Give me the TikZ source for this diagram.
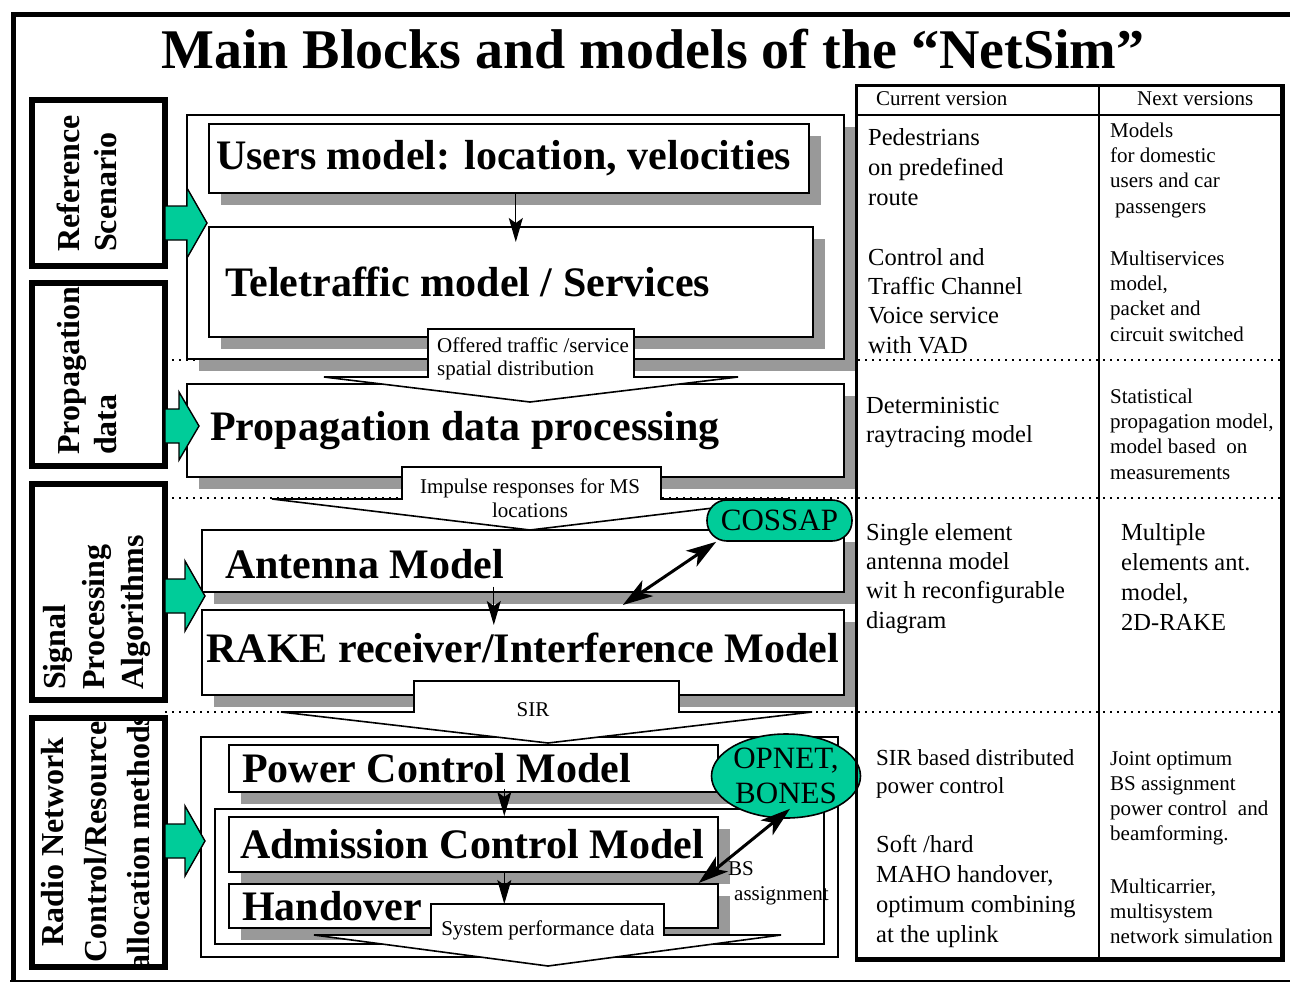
\documentclass[tikz,border=0pt]{standalone}
\usepackage{fontspec}
\setmainfont{Liberation Serif}
\usetikzlibrary{arrows.meta,positioning,calc,shadows,shapes.geometric}

\definecolor{simgreen}{RGB}{0,204,153}
\definecolor{shadowgray}{RGB}{153,153,153}
\newcommand{\fsz}[2]{\fontsize{#1}{#2}\selectfont}

\begin{document}
\begin{tikzpicture}[
    x=1pt, y=-1pt,
    catbox/.style={rectangle, draw, line width=6pt, inner sep=0pt, anchor=north west},
    cattext/.style={rotate=90, inner sep=0pt, font=\fsz{32}{37}\bfseries},
    mbox/.style={rectangle, draw, fill=white, line width=1.6pt, inner sep=0pt, anchor=north west,
        drop shadow={shadow xshift=12pt, shadow yshift=-12pt, fill=shadowgray, opacity=1}},
    frame/.style={rectangle, draw, line width=1.6pt, inner sep=0pt, anchor=north west},
    head/.style={inner sep=0pt, font=\fsz{42}{46}\bfseries},
    lbl/.style={inner sep=0pt, align=left, font=\fsz{21}{24}},
    cellA/.style={inner sep=0pt, anchor=base west, align=left, font=\fsz{24.5}{30}},
    cellB/.style={inner sep=0pt, anchor=base west, align=left, font=\fsz{21}{25.3}},
    tool/.style={draw, fill=simgreen, line width=1.6pt, inner sep=0pt, align=center, font=\fsz{31}{35}},
    funnel/.style={draw, fill=white, line width=1.6pt},
    garrow/.style={draw, fill=simgreen, line width=1.4pt},
    arr/.style={-{Stealth[length=24pt, width=14pt, inset=5pt]}, line width=1.2pt},
    dbl/.style={{Stealth[length=30pt, width=19pt, inset=8pt]}-{Stealth[length=30pt, width=19pt, inset=8pt]}, line width=3pt},
    sep/.style={line width=2pt, dash pattern=on 2pt off 5pt},
]
\useasboundingbox (0,0) rectangle (1290,983);

% outer frame and title
\draw[line width=5pt] (1290,14.5) -- (13,14.5) -- (13,982);
\draw[line width=2pt] (10,981) -- (1290,981);
\node[inner sep=0pt, anchor=base, font=\fsz{56}{60}\bfseries] (title) at (653,68)
    {Main Blocks and models of the “NetSim”};

% dotted separators
\draw[sep] (165,360) -- (1280,360);
\draw[sep] (165,498) -- (1280,498);
\draw[sep] (165,712) -- (1280,712);

% category boxes on the left
\node[catbox, minimum width=133pt, minimum height=166pt] (refbox) at (29,97) {};
\node[catbox, minimum width=133pt, minimum height=183pt] (propbox) at (29,280) {};
\node[catbox, minimum width=133pt, minimum height=216pt] (sigbox) at (29,481) {};
\node[cattext, anchor=west, align=left] (reftxt) at (87,252) {Reference\\Scenario};
\node[cattext, anchor=west, align=left] (proptxt) at (87,455) {Propagation\\data};
\node[cattext, anchor=west, align=left, font=\fsz{32}{39}\bfseries] (sigtxt) at (97,690)
    {Signal\\Processing\\Algorithms};
\begin{scope}
    \clip (29,715) rectangle (162,964);
    \node[cattext, align=center, font=\fsz{32}{43}\bfseries] (radtxt) at (95.5,842)
        {Radio Network\\Control/Resource\\allocation methods};
\end{scope}
\node[catbox, minimum width=133pt, minimum height=249pt] (radbox) at (29,715) {};

% reference scenario
\node[mbox, minimum width=657pt, minimum height=244pt] (scen) at (186,114) {};
\node[mbox, minimum width=600pt, minimum height=69pt] (users) at (208,123) {};
\node[head, right=8pt of users.west] (userstxt) {Users model: location, velocities};
\node[mbox, minimum width=604pt, minimum height=110pt] (tele) at (208,226) {};
\node[head, right=17pt of tele.west] (teletxt) {Teletraffic model / Services};
\coordinate (ua) at ($(users.south)+(7,0)$);
\draw[arr, shorten >=-16pt] (ua) -- (ua |- tele.north);

% propagation data
\node[mbox, minimum width=657pt, minimum height=93pt] (prop) at (186,383) {};
\node[head, right=24pt of prop.west] (proptitle) {Propagation data processing};
\draw[funnel] (428,377) -- (428,329) -- (634,329) -- (634,377) -- (738,377) -- (530,402) -- (324,377) -- cycle;
\node[lbl, anchor=base west, font=\fsz{21}{23}] (offer) at (437,375) {Offered traffic /service\\spatial distribution};

% signal processing
\node[mbox, minimum width=642pt, minimum height=62pt] (ant) at (201,529) {};
\node[head, right=24pt of ant.west, yshift=-3pt] (anttxt) {Antenna Model};
\node[mbox, minimum width=642pt, minimum height=85pt] (rake) at (201,609) {};
\node[head] (raketxt) at ($(rake.center)+(0,-4)$) {RAKE receiver/Interference Model};
\coordinate (aa) at ($(ant.south)+(-29,-6)$);
\draw[arr, shorten >=-16pt] (aa) -- (aa |- rake.north);
\draw[funnel] (402,499) -- (402,467) -- (661,467) -- (661,499) -- (788,499) -- (530,530) -- (272,499) -- cycle;
\node[lbl, align=center, anchor=base] (impulse) at (530,517) {Impulse responses for MS\\locations};
\node[tool, rounded corners=20pt, minimum width=145pt, minimum height=41pt] (cossap) at (779.5,520.5) {COSSAP};
\draw[dbl] ([xshift=10pt]cossap.south west) -- ([xshift=100pt,yshift=4pt]rake.north);

% radio network control
\node[frame, minimum width=637pt, minimum height=220pt] (rrm) at (200,736) {};
\node[frame, minimum width=609pt, minimum height=135pt] (rrmin) at (214,808) {};
\draw[funnel] (414,712) -- (414,681) -- (679,681) -- (679,712) -- (812,712) -- (548,743) -- (281,712) -- cycle;
\node[lbl, anchor=base] (sir) at (533,716) {SIR};
\node[mbox, minimum width=489pt, minimum height=47pt] (power) at (228,744) {};
\node[head, right=14pt of power.west] (powertxt) {Power Control Model};
\node[mbox, minimum width=489pt, minimum height=55pt] (adm) at (228,816) {};
\node[head, right=12pt of adm.west] (admtxt) {Admission Control Model};
\node[mbox, minimum width=489pt, minimum height=44pt] (hand) at (228,883) {};
\node[head, right=14pt of hand.west] (handtxt) {Handover};
\coordinate (pa) at ($(power.south)+(31,-4)$);
\draw[arr] (pa) -- (pa |- adm.north);
\coordinate (ha) at ($(adm.south)+(31,0)$);
\draw[arr, shorten >=-21pt] (ha) -- (ha |- hand.north);
\draw[funnel] (431,935) -- (431,904) -- (664,904) -- (664,935) -- (781,935) -- (548,966) -- (314,935) -- cycle;
\node[lbl, anchor=base] (sysperf) at (548,935) {System performance data};
\node[tool, ellipse, minimum width=138pt, minimum height=84pt] (opnet) at (786,776) {OPNET,\\BONES};
\draw[dbl] ([xshift=4pt,yshift=10pt]opnet.south) -- ([xshift=-20pt]hand.north east);
\node[lbl, anchor=base west, font=\fsz{21}{25}] (bsa) at (728,900) {BS\\\hspace{6pt}assignment};

% green arrows into the blocks
\draw[garrow] (207,223) -- ++(-20,-35) -- ++(0,18) -- ++(-22,0) -- ++(0,34) -- ++(22,0) -- ++(0,18) -- cycle;
\draw[garrow] (199,426) -- ++(-20,-34) -- ++(0,17) -- ++(-14,0) -- ++(0,34) -- ++(14,0) -- ++(0,17) -- cycle;
\draw[garrow] (205,596) -- ++(-20,-35) -- ++(0,18) -- ++(-20,0) -- ++(0,34) -- ++(20,0) -- ++(0,18) -- cycle;
\draw[garrow] (205,841) -- ++(-20,-35) -- ++(0,18) -- ++(-20,0) -- ++(0,34) -- ++(20,0) -- ++(0,18) -- cycle;

% table of versions
\node[rectangle, draw, line width=2.5pt, inner sep=0pt, anchor=north west,
    minimum width=425pt, minimum height=873pt] (tab) at (855,84) {};
\draw[line width=2pt] ($(tab.north west)+(0,31)$) -- ($(tab.north east)+(0,31)$);
\draw[line width=2pt] ($(tab.north west)+(244,0)$) -- ($(tab.south west)+(244,0)$);
\draw[line width=4.5pt] (tab.north east) -- (tab.south east) -- (tab.south west);
\node[cellB] (curhd) at (876,105) {Current version};
\node[cellB] (nexthd) at (1137,105) {Next versions};
\node[cellA] (c1) at (868,205) {Pedestrians\\on predefined\\route};
\node[cellA, font=\fsz{24.5}{29.3}] (c2) at (868,353) {Control and\\Traffic Channel\\Voice service\\with VAD};
\node[cellB] (n1) at (1110,213) {Models\\for domestic\\users and car\\\hspace{5pt}passengers};
\node[cellB] (n2) at (1110,341) {Multiservices\\model,\\packet and\\circuit switched};
\node[cellA, font=\fsz{24.5}{29}] (c3) at (866,442) {Deterministic\\raytracing model};
\node[cellB] (n3) at (1110,479) {Statistical\\propagation model,\\model based\ \ on\\measurements};
\node[cellA, font=\fsz{24.5}{29.3}] (c4) at (866,628) {Single element\\antenna model\\wit h reconfigurable\\diagram};
\node[cellA] (n4) at (1121,630) {Multiple\\elements ant.\\model,\\2D-RAKE};
\node[cellA, font=\fsz{23}{28}] (c5) at (876,793) {SIR based distributed\\power control};
\node[cellA, font=\fsz{24.5}{29.7}] (c6) at (876,942) {Soft /hard\\MAHO handover,\\optimum combining\\at the uplink};
\node[cellB, font=\fsz{21}{25}] (n5) at (1110,840) {Joint optimum\\BS assignment\\power control\ \ and\\beamforming.};
\node[cellB, font=\fsz{21}{25}] (n6) at (1110,943) {Multicarrier,\\multisystem\\network simulation};
\end{tikzpicture}
\end{document}
